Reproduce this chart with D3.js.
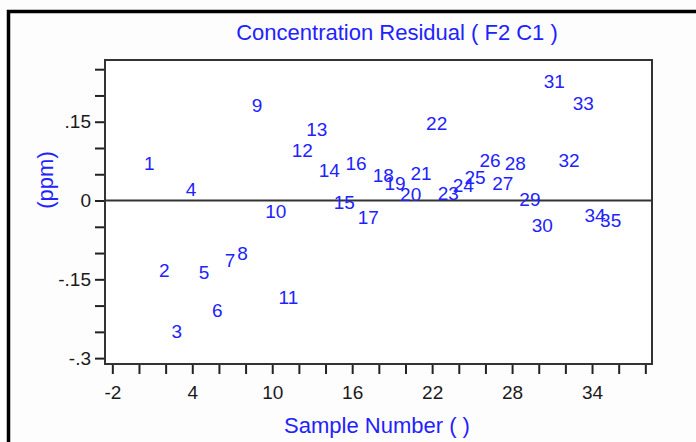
<!DOCTYPE html>
<html lang="en">

<head>
    <meta charset="UTF-8">
    <title>Concentration Residual</title>
    <script src="https://d3js.org/d3.v7.min.js"></script>
</head>
<style>
    body {
        margin: 0;
        background: #fdfdfd;
    }

    svg text {
        font-family: "Liberation Sans", Arial, sans-serif;
    }

    .axis path {
        stroke-width: 0;
    }

    .axis line {
        stroke: #222;
        stroke-width: 2px;
    }

    .axis text {
        fill: #1a1a1a;
        font-size: 19px;
    }

    .label {
        fill: #2222ff;
        font-size: 19px;
    }

    .title {
        fill: #2222ff;
        font-size: 22px;
    }
</style>

<body>
    <div id="chart"></div>
</body>
<script>
    // sample numbers as plotted, and residuals in ppm
    const samples = [
        0.77, 1.90, 2.83, 3.90, 4.88, 5.88, 6.83, 7.78, 8.86, 10.26,
        11.21, 12.26, 13.34, 14.28, 15.41, 16.29, 17.21, 18.34, 19.21, 20.39,
        21.17, 22.34, 23.21, 24.34, 25.22, 26.34, 27.30, 28.24, 29.34, 30.27,
        31.17, 32.27, 33.35, 34.22, 35.40
    ];
    const residuals = [
        0.072, -0.132, -0.248, 0.021, -0.136, -0.208, -0.113, -0.101, 0.182, -0.021,
        -0.184, 0.096, 0.136, 0.058, -0.004, 0.072, -0.031, 0.049, 0.034, 0.012,
        0.053, 0.147, 0.014, 0.030, 0.044, 0.076, 0.034, 0.072, 0.002, -0.047,
        0.228, 0.076, 0.186, -0.028, -0.038
    ];
    const labels = d3.range(1, 36).map(String);

    const xTicks = d3.range(-2, 39, 2);
    const xTickLabels = [-2, 4, 10, 16, 22, 28, 34];
    const yTicks = d3.range(-0.3, 0.2501, 0.05).map(v => +v.toFixed(2));
    const yTickLabels = [-0.3, -0.15, 0, 0.15];

    const W = 696, H = 442;
    const plot = { left: 105, right: 652, top: 60, bottom: 364 };

    const svg = d3.select("#chart")
        .append("svg")
        .attr("width", W)
        .attr("height", H);

    svg.append("rect")
        .attr("width", W).attr("height", H)
        .attr("fill", "#fdfdfd");

    // outer frame (left + top only visible)
    svg.append("path")
        .attr("d", `M8.5,${H} V11.5 H${W}`)
        .attr("fill", "none")
        .attr("stroke", "#000")
        .attr("stroke-width", 3.5);

    const x = d3.scaleLinear()
        .domain([-2.55, 38.5])
        .range([plot.left, plot.right]);

    const y = d3.scaleLinear()
        .domain([-0.3112, 0.2675])
        .range([plot.bottom, plot.top]);

    svg.append("rect")
        .attr("x", plot.left).attr("y", plot.top)
        .attr("width", plot.right - plot.left)
        .attr("height", plot.bottom - plot.top)
        .attr("fill", "#fff");

    // x axis
    svg.append("g")
        .attr("class", "axis")
        .attr("transform", `translate(0, ${plot.bottom})`)
        .call(d3.axisBottom(x)
            .tickValues(xTicks)
            .tickSize(10)
            .tickPadding(12)
            .tickFormat(d => xTickLabels.includes(d) ? String(d) : ""));

    // y axis, labels like ".15" and "-.3"
    const fmtY = d => {
        if (!yTickLabels.some(v => Math.abs(v - d) < 1e-9)) return "";
        if (d === 0) return "0";
        return String(d).replace("0.", ".");
    };
    svg.append("g")
        .attr("class", "axis")
        .attr("transform", `translate(${plot.left}, 0)`)
        .call(d3.axisLeft(y)
            .tickValues(yTicks)
            .tickSize(10)
            .tickPadding(4)
            .tickFormat(fmtY));

    // plot frame
    svg.append("rect")
        .attr("x", plot.left).attr("y", plot.top)
        .attr("width", plot.right - plot.left)
        .attr("height", plot.bottom - plot.top)
        .attr("fill", "none")
        .attr("stroke", "#333")
        .attr("stroke-width", 2);

    // zero line
    svg.append("line")
        .attr("x1", plot.left).attr("x2", plot.right)
        .attr("y1", y(0)).attr("y2", y(0))
        .attr("stroke", "#333")
        .attr("stroke-width", 2);

    // point labels
    svg.selectAll(".label")
        .data(labels)
        .enter()
        .append("text")
        .attr("class", "label")
        .attr("x", (d, i) => x(samples[i]))
        .attr("y", (d, i) => y(residuals[i]))
        .attr("dy", "0.36em")
        .attr("text-anchor", "middle")
        .text(d => d);

    // titles
    svg.append("text")
        .attr("class", "title")
        .attr("x", 397).attr("y", 40)
        .attr("text-anchor", "middle")
        .text("Concentration Residual ( F2 C1 )");

    svg.append("text")
        .attr("class", "title")
        .attr("x", 377).attr("y", 433)
        .attr("text-anchor", "middle")
        .text("Sample Number ( )");

    svg.append("text")
        .attr("class", "title")
        .attr("transform", "translate(46, 180) rotate(-90)")
        .attr("dy", "0.3em")
        .attr("text-anchor", "middle")
        .text("(ppm)");
</script>
</html>
